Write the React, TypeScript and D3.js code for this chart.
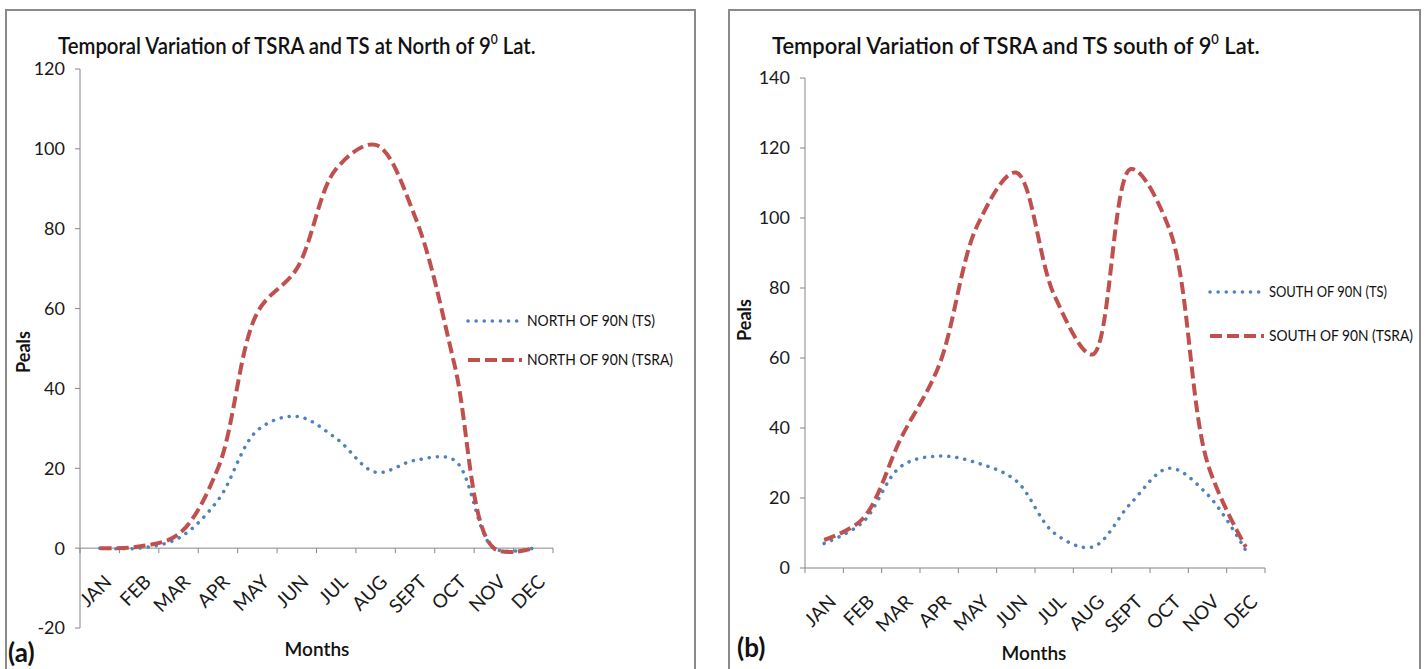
import React, { useLayoutEffect, useRef, useState } from "react";
import * as d3 from "d3";

// Month categories shared by both panels
const MONTHS = ["JAN", "FEB", "MAR", "APR", "MAY", "JUN", "JUL", "AUG", "SEPT", "OCT", "NOV", "DEC"];

// Panel (a): north of 9° latitude
const NORTH_TS = [0, 0, 2.5, 12, 29.5, 33, 27.5, 19, 22, 22, 0, 0];
const NORTH_TSRA = [0, 0.4, 3.5, 20, 59, 70, 95, 101, 83, 46, 0, 0];
const NORTH_TICKS = [-20, 0, 20, 40, 60, 80, 100, 120];

// Panel (b): south of 9° latitude
const SOUTH_TS = [7, 13, 29, 32, 30, 25, 10, 6, 18.5, 28.5, 21, 5];
const SOUTH_TSRA = [8, 14, 37, 58, 98, 113, 78, 61, 114, 97, 30, 6];
const SOUTH_TICKS = [0, 20, 40, 60, 80, 100, 120, 140];

const BLUE = "#4F81BD";
const RED = "#C0504D";
const AXIS = "#868686";
const FONT = "Lato, 'Open Sans', sans-serif";

// Title squeezed horizontally to a fixed width, keeping the glyph height
function Title({ x, y, width, main }: { x: number; y: number; width: number; main: string }) {
  const ref = useRef<SVGTextElement>(null);
  const [sx, setSx] = useState(1);
  useLayoutEffect(() => {
    if (ref.current) {
      const w = ref.current.getComputedTextLength();
      if (w > 0) setSx(width / w);
    }
  }, [width, main]);
  return (
    <g transform={`translate(${x},${y}) scale(${sx},1)`}>
      <text ref={ref} x={0} y={0} fontFamily={FONT} fontWeight={600} fontSize={22} fill="#111">
        {main}
        <tspan dy={-10} fontSize={13}>0</tspan>
        <tspan dy={10}> Lat.</tspan>
      </text>
    </g>
  );
}

type PanelProps = {
  frame: [number, number, number];
  titleMain: string;
  titleX: number;
  titleLen: number;
  xRange: [number, number];
  yDomain: [number, number];
  yRange: [number, number];
  ticks: number[];
  ts: number[];
  tsra: number[];
  tsName: string;
  tsraName: string;
  legendX: number;
  legendY: [number, number];
  legendLen: [number, number];
  yLabelPos: [number, number];
  monthsPos: [number, number];
  tag: string;
  tagPos: [number, number];
};

function Panel(p: PanelProps) {
  const x = d3.scaleBand<string>().domain(MONTHS).range(p.xRange);
  const y = d3.scaleLinear().domain(p.yDomain).range(p.yRange);
  const axisY = y(Math.max(0, p.yDomain[0]));
  const cx = (m: string) => (x(m) ?? 0) + x.bandwidth() / 2;

  const line = d3
    .line<number>()
    .x((_, i) => cx(MONTHS[i]))
    .y((v) => y(v))
    .curve(d3.curveCatmullRom.alpha(0.5));

  const x0 = p.xRange[0];
  const boundaries = d3.range(MONTHS.length + 1).map((i) => x0 + i * x.bandwidth());

  return (
    <g>
      <rect x={p.frame[0]} y={10} width={p.frame[1]} height={p.frame[2]} fill="#fff" stroke="#8a8a8a" strokeWidth={2} />

      <Title x={p.titleX} y={54} width={p.titleLen} main={p.titleMain} />

      {/* y axis */}
      <line x1={x0} x2={x0} y1={y(p.yDomain[0])} y2={y(p.yDomain[1])} stroke={AXIS} strokeWidth={1} />
      {p.ticks.map((t) => (
        <g key={t}>
          <line x1={x0 - 5} x2={x0} y1={y(t)} y2={y(t)} stroke={AXIS} />
          <text x={x0 - 15} y={y(t)} dy="0.36em" textAnchor="end" fontFamily={FONT} fontSize={18} fill="#1a1a1a">
            {t}
          </text>
        </g>
      ))}

      {/* x axis */}
      <line x1={x0} x2={p.xRange[1]} y1={axisY} y2={axisY} stroke={AXIS} strokeWidth={1} />
      {boundaries.map((b, i) => (
        <line key={i} x1={b} x2={b} y1={axisY} y2={axisY + 5} stroke={AXIS} />
      ))}
      {MONTHS.map((m) => (
        <text
          key={m}
          transform={`translate(${cx(m) + 13},${axisY + 35}) rotate(-45)`}
          textAnchor="end"
          fontFamily={FONT}
          fontSize={19}
          fill="#1a1a1a"
        >
          {m}
        </text>
      ))}

      {/* series */}
      <path d={line(p.ts) ?? ""} fill="none" stroke={BLUE} strokeWidth={3.5} strokeDasharray="0.1 8" strokeLinecap="round" />
      <path d={line(p.tsra) ?? ""} fill="none" stroke={RED} strokeWidth={4} strokeDasharray="12 5" />

      {/* legend */}
      <line x1={p.legendX} x2={p.legendX + 52} y1={p.legendY[0]} y2={p.legendY[0]} stroke={BLUE} strokeWidth={3.5} strokeDasharray="0.1 8" strokeLinecap="round" />
      <text x={p.legendX + 59} y={p.legendY[0]} dy="0.36em" fontFamily={FONT} fontSize={15} fill="#111" textLength={p.legendLen[0]} lengthAdjust="spacingAndGlyphs">
        {p.tsName}
      </text>
      <line x1={p.legendX} x2={p.legendX + 54} y1={p.legendY[1]} y2={p.legendY[1]} stroke={RED} strokeWidth={4} strokeDasharray="12 5" />
      <text x={p.legendX + 59} y={p.legendY[1]} dy="0.36em" fontFamily={FONT} fontSize={15} fill="#111" textLength={p.legendLen[1]} lengthAdjust="spacingAndGlyphs">
        {p.tsraName}
      </text>

      {/* axis titles */}
      <text transform={`translate(${p.yLabelPos[0]},${p.yLabelPos[1]}) rotate(-90)`} textAnchor="middle" dy="0.35em" fontFamily={FONT} fontWeight="bold" fontSize={18} fill="#111">
        Peals
      </text>
      <text x={p.monthsPos[0]} y={p.monthsPos[1]} textAnchor="middle" fontFamily={FONT} fontWeight={600} fontSize={19} fill="#111">
        Months
      </text>
      <text x={p.tagPos[0]} y={p.tagPos[1]} fontFamily={FONT} fontWeight="bold" fontSize={26} fill="#111">
        {p.tag}
      </text>
    </g>
  );
}

export default function App() {
  return (
    <div style={{ position: "absolute", left: 0, top: 0 }}>
      <svg width={1426} height={669} style={{ display: "block", background: "#fff" }}>
        <Panel
          frame={[6, 689, 700]}
          titleMain="Temporal Variation of TSRA and TS at North of 9"
          titleX={58}
          titleLen={478}
          xRange={[80, 553]}
          yDomain={[-20, 120]}
          yRange={[628, 69]}
          ticks={NORTH_TICKS}
          ts={NORTH_TS}
          tsra={NORTH_TSRA}
          tsName="NORTH OF 90N (TS)"
          tsraName="NORTH OF 90N (TSRA)"
          legendX={468}
          legendY={[321, 360]}
          legendLen={[128, 146]}
          yLabelPos={[24, 352]}
          monthsPos={[317, 656]}
          tag="(a)"
          tagPos={[8, 662]}
        />
        <Panel
          frame={[729, 691, 700]}
          titleMain="Temporal Variation of TSRA and TS south of 9"
          titleX={772}
          titleLen={488}
          xRange={[805, 1265]}
          yDomain={[0, 140]}
          yRange={[568, 78]}
          ticks={SOUTH_TICKS}
          ts={SOUTH_TS}
          tsra={SOUTH_TSRA}
          tsName="SOUTH OF 90N (TS)"
          tsraName="SOUTH OF 90N (TSRA)"
          legendX={1210}
          legendY={[292, 336]}
          legendLen={[118, 144]}
          yLabelPos={[745, 320]}
          monthsPos={[1034, 660]}
          tag="(b)"
          tagPos={[737, 657]}
        />
      </svg>
    </div>
  );
}
